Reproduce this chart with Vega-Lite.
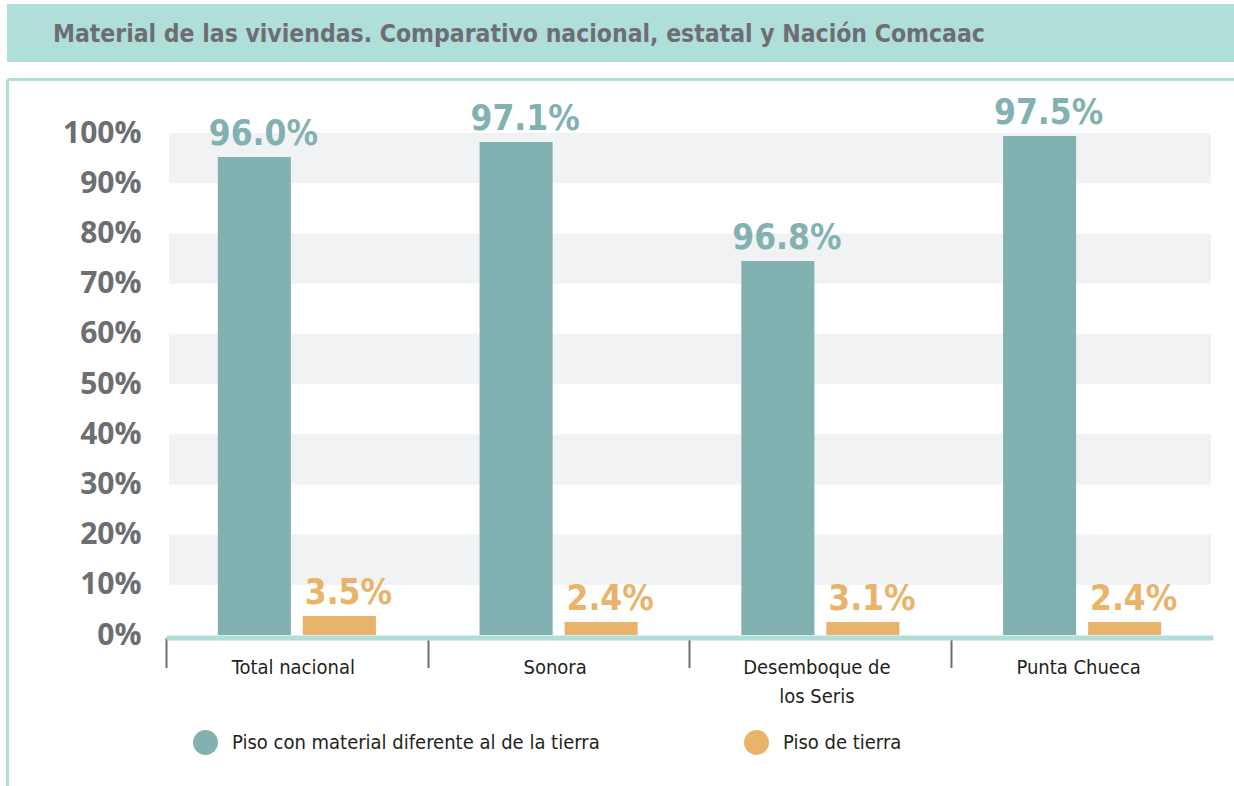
{
  "$schema": "https://vega.github.io/schema/vega-lite/v6.json",
  "background": "white",
  "padding": {"left": 4, "top": 4, "right": 0, "bottom": 0},
  "spacing": 17,
  "config": {"view": {"stroke": null}, "font": "DejaVu Sans Condensed, Roboto Condensed, Liberation Sans Narrow, Roboto"},
  "datasets": {
    "viviendas": [
      {"lugar": "Total nacional", "serie": "Piso con material diferente al de la tierra", "valor": 95.2, "etiqueta": "96.0%"},
      {"lugar": "Total nacional", "serie": "Piso de tierra", "valor": 3.8, "etiqueta": "3.5%"},
      {"lugar": "Sonora", "serie": "Piso con material diferente al de la tierra", "valor": 98.2, "etiqueta": "97.1%"},
      {"lugar": "Sonora", "serie": "Piso de tierra", "valor": 2.6, "etiqueta": "2.4%"},
      {"lugar": "Desemboque de los Seris", "serie": "Piso con material diferente al de la tierra", "valor": 74.5, "etiqueta": "96.8%"},
      {"lugar": "Desemboque de los Seris", "serie": "Piso de tierra", "valor": 2.6, "etiqueta": "3.1%"},
      {"lugar": "Punta Chueca", "serie": "Piso con material diferente al de la tierra", "valor": 99.4, "etiqueta": "97.5%"},
      {"lugar": "Punta Chueca", "serie": "Piso de tierra", "valor": 2.6, "etiqueta": "2.4%"}
    ],
    "bandas": [
      {"desde": 90, "hasta": 100},
      {"desde": 70, "hasta": 80},
      {"desde": 50, "hasta": 60},
      {"desde": 30, "hasta": 40},
      {"desde": 10, "hasta": 20}
    ]
  },
  "vconcat": [
    {
      "width": 1230,
      "height": 58,
      "view": {"fill": "#b0ded9", "stroke": null},
      "title": {
        "text": "Material de las viviendas. Comparativo nacional, estatal y Nación Comcaac",
        "anchor": "start",
        "frame": "group",
        "orient": "top",
        "offset": -62,
        "baseline": "alphabetic",
        "dx": 46,
        "font": "DejaVu Sans Condensed, Roboto Condensed, Liberation Sans Narrow, Roboto",
        "fontWeight": "bold",
        "fontSize": 24.5,
        "color": "#6d6e71"
      },
      "data": {"values": [{}]},
      "mark": {"type": "rect", "color": "#b0ded9"},
      "encoding": {}
    },
    {
      "width": 1230,
      "height": 707,
      "view": {"stroke": null, "fill": "white"},
      "resolve": {"scale": {"x": "independent", "y": "independent"}, "axis": {"x": "independent", "y": "independent"}},
      "layer": [
        {
          "data": {"values": [{}]},
          "mark": {"type": "point", "opacity": 0},
          "encoding": {
            "x": {"datum": 0, "type": "quantitative", "scale": {"domain": [0, 1], "range": [0, 1230]}, "axis": {"orient": "top", "domainColor": "#b0ded9", "domainWidth": 3, "ticks": false, "labels": false, "grid": false, "title": null}},
            "y": {"datum": 0, "type": "quantitative", "scale": {"domain": [0, 1], "range": [707, 0]}, "axis": {"orient": "left", "domainColor": "#b0ded9", "domainWidth": 3, "ticks": false, "labels": false, "grid": false, "title": null}}
          }
        },
        {
          "data": {"name": "bandas"},
          "mark": {"type": "rect", "color": "#f1f2f4"},
          "encoding": {
            "x": {"datum": 0, "type": "quantitative", "scale": {"domain": [0, 1], "range": [162, 1204]}, "axis": null},
            "x2": {"datum": 1},
            "y": {"field": "desde", "type": "quantitative", "scale": {"domain": [0, 100], "range": [556, 54]}, "axis": null},
            "y2": {"field": "hasta"}
          }
        },
        {
          "data": {"name": "viviendas"},
          "encoding": {
            "x": {
              "field": "lugar", "type": "nominal", "sort": null,
              "scale": {"range": [159, 1206], "paddingInner": 0.396, "paddingOuter": 0.198},
              "axis": {"orient": "bottom", "title": null, "offset": -148.5, "domainColor": "#b0ded9", "domainWidth": 5, "domainCap": "butt", "tickOffset": -131, "labelOffset": 127, "tickColor": "#6d6e71", "tickWidth": 2, "tickSize": 30, "labelAngle": 0, "labelFont": "DejaVu Sans Condensed, Roboto Condensed, Liberation Sans Narrow, Roboto", "labelFontSize": 20, "labelColor": "#231f20", "labelPadding": -10, "labelBaseline": "top", "labelLineHeight": 29, "labelLimit": 0, "grid": false, "labelExpr": "datum.value == 'Desemboque de los Seris' ? ['Desemboque de', 'los Seris'] : datum.value"}
            },
            "xOffset": {"field": "serie", "type": "nominal", "sort": null, "scale": {"paddingInner": 0.141, "paddingOuter": 0}},
            "y": {
              "field": "valor", "type": "quantitative",
              "scale": {"domain": [0, 100], "range": [556, 54]},
              "axis": {"orient": "left", "values": [0, 10, 20, 30, 40, 50, 60, 70, 80, 90, 100], "labelExpr": "datum.value + '%'", "title": null, "domain": false, "ticks": false, "grid": false, "labelFont": "Open Sans", "labelFontWeight": "bold", "labelFontSize": 30, "labelColor": "#6d6e71", "labelPadding": 0, "offset": -134, "labelBaseline": "middle"}
            },
            "color": {
              "field": "serie", "type": "nominal", "sort": null,
              "scale": {"domain": ["Piso con material diferente al de la tierra", "Piso de tierra"], "range": ["#82b1b1", "#e9b46a"]},
              "legend": {"orient": "none", "legendX": 186, "legendY": 726, "direction": "horizontal", "title": null, "symbolType": "circle", "symbolSize": 625, "symbolStrokeWidth": 0, "symbolOpacity": 1, "labelFont": "DejaVu Sans Condensed, Roboto Condensed, Liberation Sans Narrow, Roboto", "labelFontSize": 20, "labelColor": "#231f20", "labelOffset": 14, "columnPadding": 144, "labelLimit": 0, "padding": 0}
            }
          },
          "layer": [
            {"mark": {"type": "bar"}},
            {
              "mark": {"type": "text", "baseline": "alphabetic", "dy": -12, "dx": 9, "font": "DejaVu Sans Condensed, Roboto Condensed, Liberation Sans Narrow, Roboto", "fontWeight": "bold", "fontSize": 35},
              "encoding": {"text": {"field": "etiqueta", "type": "nominal"}}
            }
          ]
        }
      ]
    }
  ]
}
